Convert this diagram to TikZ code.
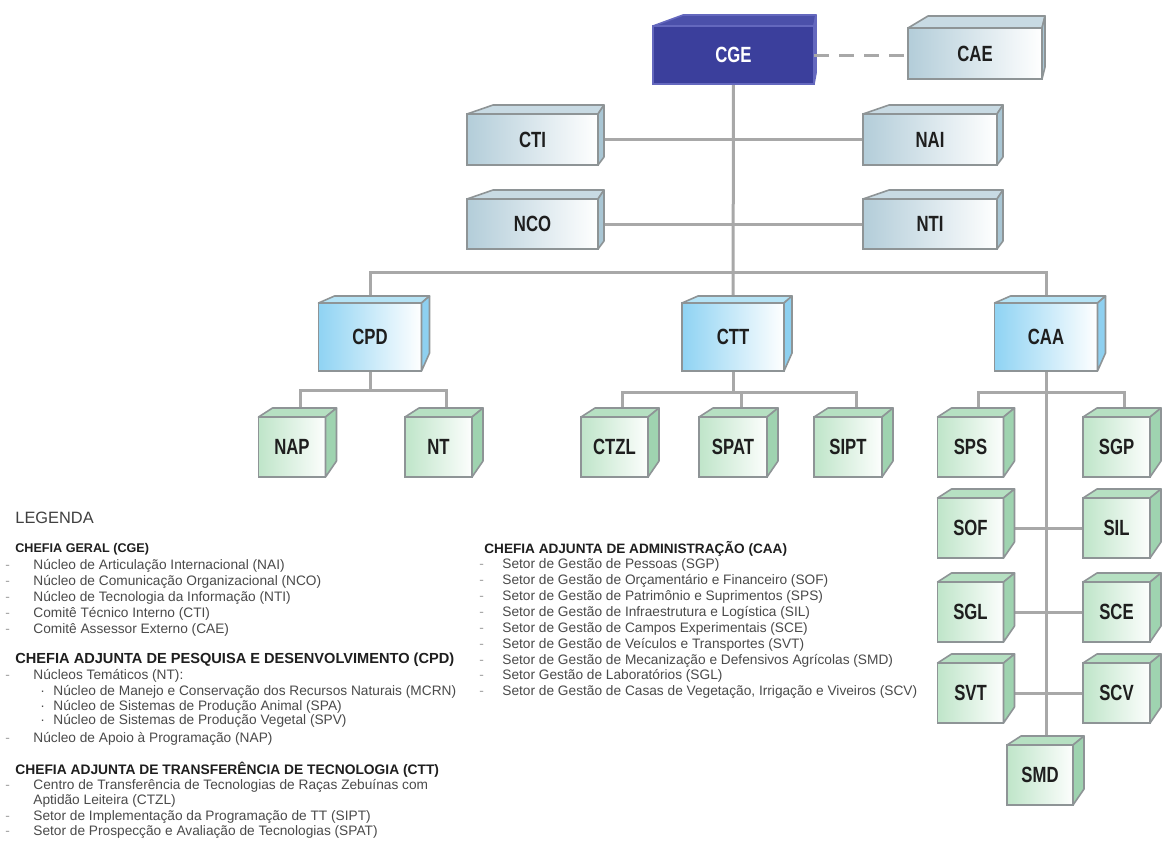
\documentclass[tikz,border=0pt]{standalone}
\usepackage{fontspec}
\setmainfont{Liberation Sans}
\usepackage{graphicx}
\usetikzlibrary{backgrounds}
\definecolor{bordc}{HTML}{8E9496}
\definecolor{connc}{HTML}{A8A8A8}
\definecolor{upL}{HTML}{B3CDD9}
\definecolor{upTop}{HTML}{C8DAE3}
\definecolor{upSide}{HTML}{A9C6D4}
\definecolor{cgeF}{HTML}{3B3F9C}
\definecolor{cgeTop}{HTML}{4B50AA}
\definecolor{cgeB}{HTML}{6468BE}
\definecolor{midL}{HTML}{8FD3F3}
\definecolor{midTop}{HTML}{B5E3F5}
\definecolor{midSide}{HTML}{8ED0F0}
\definecolor{grL}{HTML}{BFE5C9}
\definecolor{grTop}{HTML}{B6E0C2}
\definecolor{grSide}{HTML}{9FD3B0}
\definecolor{itemc}{HTML}{4A4A4A}
\definecolor{headc}{HTML}{1E1E1E}
\definecolor{tickc}{HTML}{A0A0A0}
\newcommand\lbl[1]{\scalebox{0.76}[1]{\fontsize{11pt}{11pt}\selectfont\bfseries #1}}
\newcommand\setgeom[4]{\def\ga{#1}\def\gs{#2}\def\gd{#3}\def\gee{#4}}
\newcommand\tk[1]{\makebox[#1][l]{\textcolor{tickc}{-}}}
% name, cx, cy, w, h, kind, label
\newcommand\mkbox[7]{%
  \node[#6box, minimum width=#4*0.5pt, minimum height=#5*0.5pt] (#1) at (#2,#3) {#7};
  \filldraw[#6top] (#1.north west) -- ++(\ga,-\gd) -- ([shift={(\gs,-\gd)}]#1.north east) -- (#1.north east) -- cycle;
  \filldraw[#6side] (#1.north east) -- ++(\gs,-\gd) -- ([shift={(\gs,-\gee)}]#1.south east) -- (#1.south east) -- cycle;
  \coordinate (#1-t) at ([xshift=4pt]#1.north);
}
\newcommand\itm[4]{\node[item] (#1) at (#2,#3) {#4};}
\begin{document}
\begin{tikzpicture}[x=0.5pt,y=-0.5pt,
  base/.style={inner sep=0pt, outer sep=0pt, line width=0.8pt, draw=bordc, text=headc},
  cgebox/.style={base, fill=cgeF, draw=cgeB, text=white},
  cgetop/.style={fill=cgeTop, draw=cgeB, line width=0.8pt, line join=round},
  cgeside/.style={fill=cgeF, draw=cgeB, line width=0.8pt, line join=round},
  upbox/.style={base, left color=upL, right color=white},
  uptop/.style={fill=upTop, draw=bordc, line width=0.8pt, line join=round},
  upside/.style={fill=upSide, draw=bordc, line width=0.8pt, line join=round},
  midbox/.style={base, left color=midL, right color=white},
  midtop/.style={fill=midTop, draw=bordc, line width=0.8pt, line join=round},
  midside/.style={fill=midSide, draw=bordc, line width=0.8pt, line join=round},
  grbox/.style={base, left color=grL, right color=white!96!grL},
  grtop/.style={fill=grTop, draw=bordc, line width=0.8pt, line join=round},
  grside/.style={fill=grSide, draw=bordc, line width=0.8pt, line join=round},
  conn/.style={draw=connc, line width=1.5pt},
  item/.style={anchor=west, inner sep=0pt, text=itemc, font=\fontsize{6.85pt}{7pt}\selectfont},
  head/.style={anchor=west, inner sep=0pt, text=headc, font=\fontsize{#1}{7pt}\selectfont\bfseries},
]
\useasboundingbox (0,0) rectangle (1165,848);

% ---- boxes ----
\setgeom{30}{2}{11}{11}
\mkbox{cge}{733.5}{55}{161}{58}{cge}{\lbl{CGE}}
\setgeom{20}{3}{12}{12}
\mkbox{cae}{975}{53.5}{134}{51}{up}{\lbl{CAE}}
\setgeom{26}{6}{9}{8}
\mkbox{cti}{532.5}{139.5}{131}{51}{up}{\lbl{CTI}}
\mkbox{nai}{930}{139.5}{134}{51}{up}{\lbl{NAI}}
\mkbox{nco}{532.5}{224}{131}{50}{up}{\lbl{NCO}}
\mkbox{nti}{930}{224}{134}{50}{up}{\lbl{NTI}}
\setgeom{16}{8}{7}{18}
\mkbox{cpd}{370}{337}{103}{68}{mid}{\lbl{CPD}}
\mkbox{ctt}{733}{337}{102}{68}{mid}{\lbl{CTT}}
\mkbox{caa}{1046}{337}{103}{68}{mid}{\lbl{CAA}}
\setgeom{14}{11}{9}{16}
\mkbox{nap}{292}{447}{67}{60}{gr}{\lbl{NAP}}
\mkbox{nt}{438.5}{447}{67}{60}{gr}{\lbl{NT}}
\mkbox{ctzl}{614.5}{447}{67}{60}{gr}{\lbl{CTZL}}
\mkbox{spat}{733}{447}{68}{60}{gr}{\lbl{SPAT}}
\mkbox{sipt}{848}{447}{68}{60}{gr}{\lbl{SIPT}}
\mkbox{sps}{970.5}{447}{66}{60}{gr}{\lbl{SPS}}
\mkbox{sgp}{1116.5}{447}{67}{60}{gr}{\lbl{SGP}}
\mkbox{sof}{970.5}{528}{66}{60}{gr}{\lbl{SOF}}
\mkbox{sil}{1116.5}{528}{67}{60}{gr}{\lbl{SIL}}
\mkbox{sgl}{970.5}{612}{66}{60}{gr}{\lbl{SGL}}
\mkbox{sce}{1116.5}{612}{67}{60}{gr}{\lbl{SCE}}
\mkbox{svt}{970.5}{693}{66}{60}{gr}{\lbl{SVT}}
\mkbox{scv}{1116.5}{693}{67}{60}{gr}{\lbl{SCV}}
\mkbox{smd}{1040}{775}{66}{60}{gr}{\lbl{SMD}}

% ---- connectors ----
\coordinate (bus) at (733,272);
\coordinate (j1y) at (0,390);
\coordinate (j2y) at (0,392);
\coordinate (j3y) at (0,392);
\begin{scope}[on background layer]
\fill[white] (0,0) rectangle (1165,848);
\draw[conn] (cge) -- (ctt);
\draw[conn] (cti) -- (nai);
\draw[conn] (nco) -- (nti);
\draw[conn] (cpd) |- (bus) -| (caa);
\draw[conn] (cpd) -- (cpd |- j1y);
\draw[conn] (nap-t) |- (nt-t |- j1y) -- (nt-t);
\draw[conn] (ctt) -- (ctt |- j2y);
\draw[conn] (ctzl-t) |- (sipt-t |- j2y) -- (sipt-t);
\draw[conn] (spat-t) -- (spat-t |- j2y);
\draw[conn] (caa) -- (caa |- smd.north);
\draw[conn] (sps-t) |- (sgp-t |- j3y) -- (sgp-t);
\draw[conn] (sof) -- (sil);
\draw[conn] (sgl) -- (sce);
\draw[conn] (svt) -- (scv);
\end{scope}
\draw[connc, line width=1.5pt, dash pattern=on 7.5pt off 5pt] (cge.east) -- (cge.east -| cae.west);

% ---- legend ----
\node[anchor=west, inner sep=0pt, text=headc!85, font=\fontsize{8.2pt}{9pt}\selectfont] (leg) at (15,518) {LEGENDA};
\node[head=6.3pt] (h1) at (15,549) {CHEFIA GERAL (CGE)};
\itm{a1}{5}{566}{\tk{14pt}Núcleo de Articulação Internacional (NAI)}
\itm{a2}{5}{582}{\tk{14pt}Núcleo de Comunicação Organizacional (NCO)}
\itm{a3}{5}{598}{\tk{14pt}Núcleo de Tecnologia da Informação (NTI)}
\itm{a4}{5}{614}{\tk{14pt}Comitê Técnico Interno (CTI)}
\itm{a5}{5}{630}{\tk{14pt}Comitê Assessor Externo (CAE)}
\node[head=7.3pt] (h2) at (15,660) {CHEFIA ADJUNTA DE PESQUISA E DESENVOLVIMENTO (CPD)};
\itm{b1}{5}{676}{\tk{14pt}Núcleos Temáticos (NT):}
\itm{b2}{40}{692}{\makebox[6.5pt][l]{·}Núcleo de Manejo e Conservação dos Recursos Naturais (MCRN)}
\itm{b3}{40}{707}{\makebox[6.5pt][l]{·}Núcleo de Sistemas de Produção Animal (SPA)}
\itm{b4}{40}{721}{\makebox[6.5pt][l]{·}Núcleo de Sistemas de Produção Vegetal (SPV)}
\itm{b5}{5}{739}{\tk{14pt}Núcleo de Apoio à Programação (NAP)}
\node[head=6.9pt] (h3) at (15,770) {CHEFIA ADJUNTA DE TRANSFERÊNCIA DE TECNOLOGIA (CTT)};
\itm{c1}{5}{786}{\tk{14pt}Centro de Transferência de Tecnologias de Raças Zebuínas com}
\itm{c2}{33}{801}{Aptidão Leiteira (CTZL)}
\itm{c3}{5}{817}{\tk{14pt}Setor de Implementação da Programação de TT (SIPT)}
\itm{c4}{5}{832}{\tk{14pt}Setor de Prospecção e Avaliação de Tecnologias (SPAT)}
\node[head=6.8pt] (h4) at (484,549) {CHEFIA ADJUNTA DE ADMINISTRAÇÃO (CAA)};
\itm{d1}{479}{565}{\tk{11.5pt}Setor de Gestão de Pessoas (SGP)}
\itm{d2}{479}{581}{\tk{11.5pt}Setor de Gestão de Orçamentário e Financeiro (SOF)}
\itm{d3}{479}{597}{\tk{11.5pt}Setor de Gestão de Patrimônio e Suprimentos (SPS)}
\itm{d4}{479}{613}{\tk{11.5pt}Setor de Gestão de Infraestrutura e Logística (SIL)}
\itm{d5}{479}{629}{\tk{11.5pt}Setor de Gestão de Campos Experimentais (SCE)}
\itm{d6}{479}{645}{\tk{11.5pt}Setor de Gestão de Veículos e Transportes (SVT)}
\itm{d7}{479}{661}{\tk{11.5pt}Setor de Gestão de Mecanização e Defensivos Agrícolas (SMD)}
\itm{d8}{479}{676}{\tk{11.5pt}Setor Gestão de Laboratórios (SGL)}
\itm{d9}{479}{692}{\tk{11.5pt}Setor de Gestão de Casas de Vegetação, Irrigação e Viveiros (SCV)}
\end{tikzpicture}
\end{document}
